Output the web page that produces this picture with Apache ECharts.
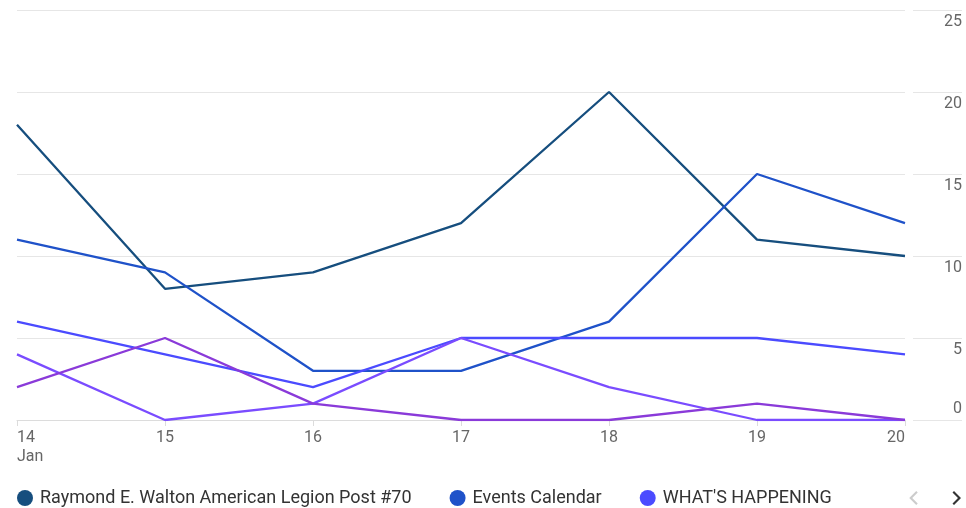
<!DOCTYPE html>
<html>
<head>
<meta charset="utf-8">
<script src="https://cdn.jsdelivr.net/npm/echarts@6/dist/echarts.min.js"></script>
<style>
  html, body { margin: 0; padding: 0; background: #fff; }
  #main { width: 966px; height: 508px; }
</style>
</head>
<body>
<div id="main"></div>
<script>
var myChart = echarts.init(document.getElementById('main'));

// data
var days = ['14', '15', '16', '17', '18', '19', '20'];
var names = [
    'Raymond E. Walton American Legion Post #70',
    'Events Calendar',
    "WHAT'S HAPPENING",
    'Community Events',
    'Local News'
];
var legionPost = [18, 8, 9, 12, 20, 11, 10];
var eventsCalendar = [11, 9, 3, 3, 6, 15, 12];
var whatsHappening = [6, 4, 2, 5, 5, 5, 4];
var community = [4, 0, 1, 5, 2, 0, 0];
var localNews = [2, 5, 1, 0, 0, 1, 0];
var colors = ['#164e7e', '#1f52c9', '#4b4bff', '#7a4cff', '#8a3ad9'];

var allData = [legionPost, eventsCalendar, whatsHappening, community, localNews];

var font = 'Roboto';

var option = {
    backgroundColor: '#fff',
    color: colors,
    textStyle: { fontFamily: font },
    grid: {
        left: 17,
        right: 61,
        top: 10,
        bottom: 88
    },
    legend: {
        type: 'scroll',
        left: 12,
        right: 32,
        top: 484,
        icon: 'circle',
        itemWidth: 20,
        itemHeight: 16,
        itemGap: 38,
        textStyle: { fontSize: 18, color: '#333', fontFamily: font },
        pageButtonItemGap: 3,
        pageButtonGap: 44,
        pageIconSize: 14,
        pageIconColor: '#333',
        pageIconInactiveColor: '#ccc',
        pageFormatter: ' ',
        pageTextStyle: { fontSize: 12 },
        pageIcons: {
            horizontal: [
                'path://M7,0 L8.5,1.5 L3,7 L8.5,12.5 L7,14 L0,7 Z',
                'path://M1.5,0 L0,1.5 L5.5,7 L0,12.5 L1.5,14 L8.5,7 Z'
            ]
        },
        data: names
    },
    xAxis: {
        type: 'category',
        boundaryGap: false,
        data: days,
        axisLine: { lineStyle: { color: '#dcdcdc' } },
        axisTick: { show: true, length: 6, lineStyle: { color: '#dcdcdc' } },
        axisLabel: {
            color: '#666',
            fontSize: 16,
            fontFamily: font,
            margin: 8,
            lineHeight: 19,
            alignMinLabel: 'left',
            alignMaxLabel: 'right',
            formatter: function (v, i) {
                return i === 0 ? v + '\nJan' : v;
            }
        }
    },
    yAxis: {
        type: 'value',
        position: 'right',
        min: 0,
        max: 25,
        interval: 5,
        offset: 8,
        axisLine: { show: false },
        axisTick: { show: true, inside: false, length: 49, lineStyle: { color: '#e6e6e6' } },
        splitLine: { lineStyle: { color: '#e6e6e6' } },
        axisLabel: {
            margin: 49,
            align: 'right',
            verticalAlign: 'middle',
            formatter: function (v) {
                return v === 0 ? '{lo|0}' : '{hi|' + v + '}';
            },
            rich: {
                hi: { color: '#666', fontSize: 16, fontFamily: font, padding: [24, 0, 0, 0] },
                lo: { color: '#666', fontSize: 16, fontFamily: font, padding: [0, 0, 22, 0] }
            }
        }
    },
    series: names.map(function (n, i) {
        return {
            name: n,
            type: 'line',
            data: allData[i],
            showSymbol: false,
            symbol: 'circle',
            lineStyle: { width: 2.3 },
            emphasis: { disabled: true }
        };
    })
};

myChart.setOption(option);
</script>
</body>
</html>
